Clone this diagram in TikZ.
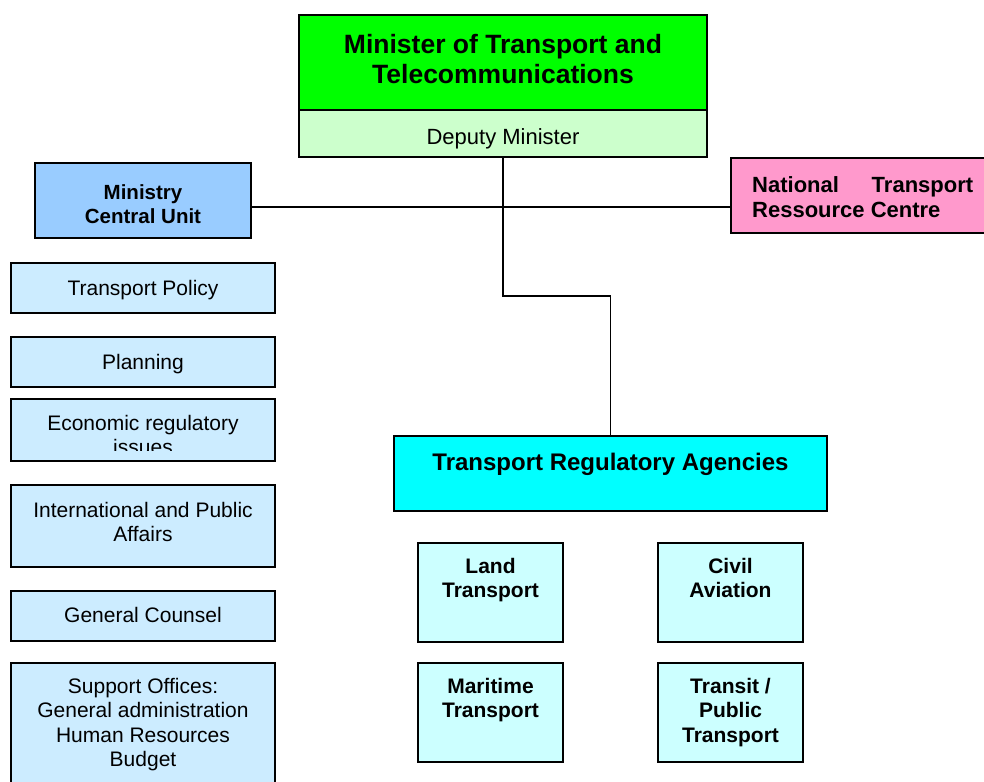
\documentclass[tikz,border=0pt]{standalone}
\usepackage{fontspec}
\setmainfont{Liberation Sans}
\usetikzlibrary{positioning}

\definecolor{mingreen}{HTML}{00FF00}
\definecolor{depgreen}{HTML}{CCFFCC}
\definecolor{unitblue}{HTML}{99CCFF}
\definecolor{officeblue}{HTML}{CCECFF}
\definecolor{ressourcepink}{HTML}{FF99CC}
\definecolor{agencycyan}{HTML}{00FFFF}
\definecolor{agencylight}{HTML}{CCFFFF}

\newcommand\titlesize{\fontsize{26.5pt}{30pt}\selectfont}
\newcommand\bodysize{\fontsize{21pt}{24.5pt}\selectfont}

\tikzset{
  unit/.style={draw, line width=1.8pt, inner sep=0pt},
  office/.style={unit, fill=officeblue, minimum width=264pt},
  agency/.style={unit, fill=agencylight, minimum width=145pt, minimum height=99pt},
  txt/.style={anchor=north, inner sep=0pt, align=center, font=\bodysize},
  conn/.style={line width=1.8pt}
}

\begin{document}
\begin{tikzpicture}[x=1pt,y=-1pt]
   \clip (0,0) rectangle (984,781);

   % top of the ministry
   \node[unit, fill=mingreen, minimum width=408pt, minimum height=95pt] (minister) at (503,62.5) {};
   \node[unit, fill=depgreen, minimum width=408pt, minimum height=47pt] (deputy) at (503,133.5) {};
   \node[txt, font=\titlesize\bfseries] (minister-t) at (503,34) {Minister of Transport and\\Telecommunications};
   \node[txt, font=\fontsize{22pt}{25pt}\selectfont] (deputy-t) at (503,128) {Deputy Minister};

   \node[unit, fill=unitblue, minimum width=216pt, minimum height=75pt] (mcu) at (143,200.5) {};
   \node[txt, font=\fontsize{20.5pt}{24pt}\selectfont\bfseries] (mcu-t) at (143,184) {Ministry\\Central Unit};

   \node[unit, fill=ressourcepink, minimum width=269pt, minimum height=75pt] (ntrc) at (865.5,195.5) {};
   \node[txt, anchor=north west, align=left, font=\fontsize{22pt}{25pt}\selectfont\bfseries] (ntrc-t) at (752,176)
      {\hbox to 221pt{National\hfill Transport}\\Ressource Centre};

   % offices of the central unit
   \node[office, minimum height=50pt] (policy) at (143,288) {};
   \node[txt] (policy-t) at (143,280) {Transport Policy};
   \node[office, minimum height=50pt] (planning) at (143,362) {};
   \node[txt] (planning-t) at (143,354) {Planning};
   \node[office, minimum height=62pt] (economic) at (143,430) {};
   \begin{scope}
      \clip (11,399) rectangle (275,450);
      \node[txt] (economic-t) at (143,415) {Economic regulatory\\issues};
   \end{scope}
   \node[office, minimum height=82pt] (public) at (143,526) {};
   \node[txt] (public-t) at (143,502) {International and Public\\Affairs};
   \node[office, minimum height=50pt] (counsel) at (143,616) {};
   \node[txt] (counsel-t) at (143,607) {General Counsel};
   \node[office, minimum height=137pt] (support) at (143,731.5) {};
   \node[txt] (support-t) at (143,678) {Support Offices:\\General administration\\Human Resources\\Budget};

   % regulatory agencies
   \node[unit, fill=agencycyan, minimum width=433pt, minimum height=75pt] (agencies) at (610.5,473.5) {};
   \node[txt, font=\fontsize{24pt}{27pt}\selectfont\bfseries] (agencies-t) at (610.5,453) {Transport Regulatory Agencies};

   \node[agency] (land) at (490.5,592.5) {};
   \node[txt, font=\bodysize\bfseries] (land-t) at (490.5,558) {Land\\Transport};
   \node[agency] (civil) at (730.5,592.5) {};
   \node[txt, font=\bodysize\bfseries] (civil-t) at (730.5,558) {Civil\\Aviation};
   \node[agency] (maritime) at (490.5,712.5) {};
   \node[txt, font=\bodysize\bfseries] (maritime-t) at (490.5,678) {Maritime\\Transport};
   \node[agency] (transit) at (730.5,712.5) {};
   \node[txt, font=\bodysize\bfseries] (transit-t) at (730.5,678) {Transit /\\Public\\Transport};

   % lines
   \coordinate (link) at (0,207);
   \coordinate (bend) at (503,296);
   \draw[conn] (mcu.east |- link) -- (ntrc.west |- link);
   \draw[conn] (deputy.south) -- (bend) -| (agencies.north);
\end{tikzpicture}
\end{document}
